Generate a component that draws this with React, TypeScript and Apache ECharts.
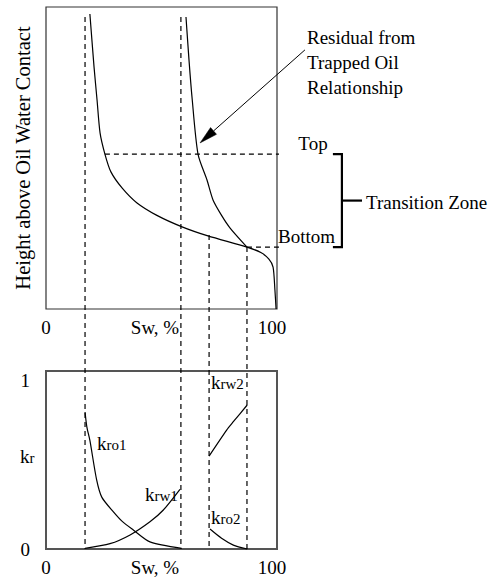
import React, { useEffect, useRef } from "react";
import * as echarts from "echarts";

// ---- data ----
const swTicks = [0, 100];
const krTicks = [0, 1];

// capillary-pressure (drainage) curve: [Sw %, height]
const drainageCurve: [number, number][] = [
  [19.0, 97.7], [20.8, 80.1], [22.1, 69.2], [23.4, 58.3], [25.5, 51.3],
  [28.1, 45.4], [33.0, 40.0], [39.4, 35.1], [48.0, 31.0], [58.9, 27.2], [70.1, 24.2],
  [87.0, 20.5], [93.0, 18.7], [96.5, 16.5], [98.3, 13.9], [99.1, 6.3], [99.6, 0],
];
// residual from trapped oil relationship: [Sw %, height]
const trappedCurve: [number, number][] = [
  [60.6, 96.7], [61.9, 82.5], [63.2, 70.2], [65.8, 51.3], [69.7, 42.7],
  [72.3, 36.1], [76.0, 31.0], [79.7, 26.8], [87.0, 20.5],
];

// relative permeability curves: [Sw %, kr]
const kro1: [number, number][] = [
  [16.9, 0.77], [17.7, 0.685], [19.0, 0.61], [21.9, 0.39], [24.2, 0.29],
  [29.1, 0.21], [33.0, 0.155], [37.8, 0.107], [45.0, 0.04], [58.7, 0.004],
];
const krw1: [number, number][] = [
  [16.9, 0.004], [27.7, 0.03], [36.4, 0.079], [45.0, 0.153], [50.8, 0.219], [58.0, 0.335],
];
const krw2: [number, number][] = [[70.6, 0.522], [78.2, 0.668], [81.1, 0.715], [87.1, 0.809]];
const kro2: [number, number][] = [[71.0, 0.112], [76.0, 0.06], [81.1, 0.022], [87.1, 0.0]];

// reference saturations (dashed verticals) and where they start in the upper plot
const refSw = [16.9, 58.4, 70.6, 87.0];
const refTopH = [96.7, 96.7, 24.5, 20.5];
// transition zone heights
const topH = 51.3;
const topStartSw = 25.5;
const bottomH = 20.5;
const bottomStartSw = 87.0;
const dashEndSw = 119;
// annotation anchors in data units of the upper plot
const bracketSw = [124.2, 128.1, 136.8];
const arrowFrom = [112.1, 85.8];
const arrowTo = [66.7, 55.0];

// ---- layout ----
const W = 489;
const H = 579;
const TOPG = { left: 46, top: 7, width: 231, height: 302 };
const BOTG = { left: 46, top: 371, width: 231, height: 178 };
const FONT = "'Liberation Serif', 'Times New Roman', serif";

export default function App() {
  const ref = useRef<HTMLDivElement>(null);
  useEffect(() => {
    if (!ref.current) return;
    const chart = echarts.init(ref.current, null, { renderer: "svg" });
    const hExt = -((BOTG.top + BOTG.height) - (TOPG.top + TOPG.height)) / TOPG.height * 100;
    const dash = { color: "#000", width: 1.2, type: [5, 4] as any };
    const solid = { color: "#000", width: 1.2 };
    const txt = (text: string, x: number, y: number, align = "left", size = 19) => ({
      type: "text",
      style: {
        text, x, y, fill: "#000", font: `${size}px ${FONT}`,
        align, verticalAlign: "middle",
      },
    });
    const ktxt = (main: string, sub: string, x: number, y: number) => ({
      type: "text",
      style: {
        text: `{a|${main}}{b|${sub}}`, x, y, fill: "#000",
        verticalAlign: "middle",
        rich: {
          a: { fontSize: 19, fontFamily: FONT, color: "#000" },
          b: { fontSize: 15, fontFamily: FONT, color: "#000", verticalAlign: "bottom" },
        },
      },
    });
    const lineS = (data: any, xi: number, st: any, extra: any = {}) => ({
      type: "line",
      xAxisIndex: xi,
      yAxisIndex: xi,
      data,
      showSymbol: false,
      symbol: "none",
      clip: false,
      silent: true,
      lineStyle: st,
      ...extra,
    });
    const series: any[] = [];
    refSw.forEach((sw, i) => {
      series.push(lineS([[sw, refTopH[i]], [sw, hExt]], 0, dash));
    });
    series.push(lineS([[topStartSw, topH], [dashEndSw, topH]], 0, dash));
    series.push(lineS([[bottomStartSw, bottomH], [dashEndSw, bottomH]], 0, dash));
    series.push(lineS(drainageCurve, 0, solid, { smooth: 0.25 }));
    series.push(lineS(trappedCurve, 0, solid, { smooth: 0.25 }));
    series.push(lineS(kro1, 1, solid, { smooth: 0.25 }));
    series.push(lineS(krw1, 1, solid, { smooth: 0.25 }));
    series.push(lineS(krw2, 1, solid, { smooth: 0.25 }));
    series.push(lineS(kro2, 1, solid, { smooth: 0.25 }));

    const axisLabel = (margin: number) => ({
      color: "#000",
      fontSize: 19,
      fontFamily: FONT,
      margin,
      formatter: (v: number) => (v === 100 ? "{m|100}" : `{n|${v}}`),
      rich: {
        m: { fontSize: 19, fontFamily: FONT, color: "#000", padding: [0, 10, 0, 0] },
        n: { fontSize: 19, fontFamily: FONT, color: "#000" },
      },
    });
    const xName = {
      name: "Sw, %", nameLocation: "middle", nameGap: 9, nameMoveOverlap: false,
      nameTextStyle: { color: "#000", fontSize: 19, fontFamily: FONT, padding: [0, 13, 0, 0], verticalAlign: "top" },
    };

    const baseGraphic: any[] = [
      txt("Residual from", 307, 37),
      txt("Trapped Oil", 307, 62),
      txt("Relationship", 307, 87),
      txt("Top", 313, 143, "center"),
      txt("Bottom", 278, 236),
      txt("Transition Zone", 366, 202),
      ktxt("k", "r", 20, 456),
      ktxt("k", "ro1", 97, 443),
      ktxt("k", "rw1", 145, 494),
      ktxt("k", "rw2", 211, 382),
      ktxt("k", "ro2", 211, 517),
    ];

    chart.setOption({
      animation: false,
      grid: [
        { ...TOPG, show: true, borderColor: "#333", borderWidth: 1.2, backgroundColor: "transparent" },
        { ...BOTG, show: true, borderColor: "#555", borderWidth: 2, backgroundColor: "transparent" },
      ],
      xAxis: [
        {
          gridIndex: 0, type: "value", min: swTicks[0], max: swTicks[1], interval: 100,
          axisLine: { show: false }, axisTick: { show: false }, splitLine: { show: false },
          axisLabel: axisLabel(9), ...xName,
        },
        {
          gridIndex: 1, type: "value", min: swTicks[0], max: swTicks[1], interval: 100,
          axisLine: { show: false }, axisTick: { show: false }, splitLine: { show: false },
          axisLabel: axisLabel(9), ...xName,
        },
      ],
      yAxis: [
        {
          gridIndex: 0, type: "value", min: 0, max: 100,
          axisLine: { show: false }, axisTick: { show: false }, splitLine: { show: false },
          axisLabel: { show: false },
          name: "Height above Oil Water Contact", nameLocation: "middle", nameRotate: 90, nameGap: 13,
          nameMoveOverlap: false,
          nameTextStyle: { color: "#000", fontSize: 20.5, fontFamily: FONT },
        },
        {
          gridIndex: 1, type: "value", min: krTicks[0], max: krTicks[1], interval: 1,
          axisLine: { show: false }, axisTick: { show: false }, splitLine: { show: false },
          axisLabel: {
            color: "#000", fontSize: 19, fontFamily: FONT, margin: 16,
            verticalAlignMaxLabel: "top", verticalAlignMinLabel: "middle",
          },
        },
      ],
      series,
      graphic: baseGraphic,
    });

    // annotations placed through the chart's own scale
    const p = (sw: number, h: number) => chart.convertToPixel({ gridIndex: 0 } as any, [sw, h]) as number[];
    const midH = (topH + bottomH) / 2;
    const b0 = p(bracketSw[0], topH), b1 = p(bracketSw[1], topH), b2 = p(bracketSw[1], bottomH), b3 = p(bracketSw[0], bottomH);
    const m0 = p(bracketSw[1], midH), m1 = p(bracketSw[2], midH);
    const a0 = p(arrowFrom[0], arrowFrom[1]), a1 = p(arrowTo[0], arrowTo[1]);
    const dx = a1[0] - a0[0], dy = a1[1] - a0[1];
    const len = Math.hypot(dx, dy);
    const ux = dx / len, uy = dy / len;
    const headL = 18, headW = 4.5;
    const base = [a1[0] - ux * headL, a1[1] - uy * headL];
    const nx = -uy, ny = ux;
    chart.setOption({
      graphic: [
        ...baseGraphic,
        { type: "polyline", shape: { points: [b0, b1, b2, b3] }, style: { stroke: "#000", lineWidth: 2.2, fill: null } },
        { type: "line", shape: { x1: m0[0], y1: m0[1], x2: m1[0], y2: m1[1] }, style: { stroke: "#000", lineWidth: 2.2 } },
        { type: "line", shape: { x1: a0[0], y1: a0[1], x2: base[0], y2: base[1] }, style: { stroke: "#000", lineWidth: 1 } },
        {
          type: "polygon",
          shape: { points: [a1, [base[0] + nx * headW, base[1] + ny * headW], [base[0] - nx * headW, base[1] - ny * headW]] },
          style: { fill: "#000", stroke: "#000", lineWidth: 0.5 },
        },
      ],
    });
    return () => chart.dispose();
  }, []);
  return (
    <div
      ref={ref}
      style={{ position: "fixed", left: 0, top: 0, width: W, height: H, background: "#fff" }}
    />
  );
}
